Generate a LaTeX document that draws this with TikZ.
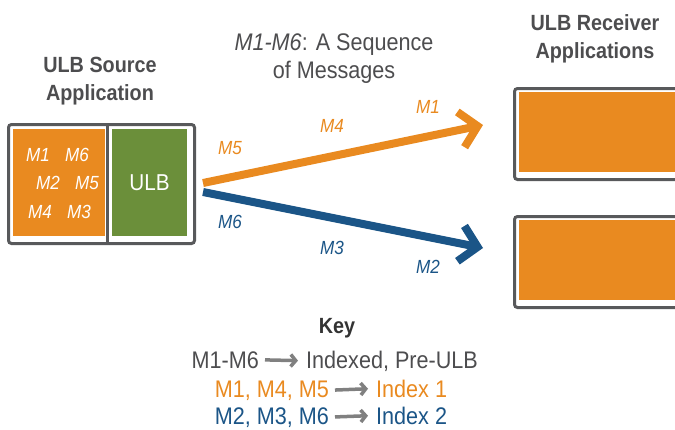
\documentclass[tikz,border=0pt]{standalone}
\usepackage{fontspec}
\setmainfont{Liberation Sans}[FakeStretch=0.9]
\usepackage{tikz}
\usetikzlibrary{arrows.meta}
\usepackage{xcolor}
\definecolor{ulborange}{HTML}{E98A20}
\definecolor{ulbgreen}{HTML}{6B8F3A}
\definecolor{ulbblue}{HTML}{1B5587}
\definecolor{ulbgray}{HTML}{58595B}
\definecolor{txtgray}{HTML}{4D4D4F}
\definecolor{keygray}{HTML}{808080}

\begin{document}
\begin{tikzpicture}[x=1pt,y=-1pt,
	frame/.style={draw=ulbgray,line width=3pt,rounded corners=3pt,inner sep=0pt,anchor=north west},
	area/.style={inner sep=0pt,outer sep=0pt,anchor=north west},
	heading/.style={font=\bfseries\fontsize{22}{28}\selectfont,text=txtgray,align=center,anchor=base},
	msg/.style={font=\itshape\fontsize{19}{19}\selectfont},
	keytxt/.style={font=\fontsize{24}{28}\selectfont,inner sep=0pt},
	msgarrow/.style={line width=8pt,-{Straight Barb[length=17pt,width=36pt]}},
	keyarrow/.style={draw=keygray,line width=3.5pt,-{Straight Barb[length=5pt,width=12pt]},shorten <=6pt,shorten >=8pt}]
			\clip (0,0) rectangle (675,429);
			% source application
			\node[heading] (srctitle) at (100,100) {ULB Source\\Application};
			\node[frame,minimum width=186pt,minimum height=119pt] (src) at (7,123) {};
			\draw[ulbgray,line width=3pt] (107,123) -- (107,242);
			\node[area,fill=ulborange,minimum width=92pt,minimum height=107pt] (msgs) at (13,129) {};
			\node[area,fill=ulbgreen,minimum width=75pt,minimum height=107pt] (ulb) at (112,129) {};
			\node[text=white,font=\fontsize{23}{23}\selectfont] at (ulb.center) {ULB};
			\foreach \Nom/\X/\Y in {M1/38/155,M6/77/155,M2/48/183,M5/87/183,M4/40/212,M3/79/212}
				\node[msg,text=white] at (\X,\Y) {\Nom};
			% receivers
			\node[heading] (rxtitle) at (595,58) {ULB Receiver\\Applications};
			\node[frame,minimum width=200pt,minimum height=91pt] (rx1) at (513,87) {};
			\node[area,fill=ulborange,minimum width=170pt,minimum height=80pt] at (519,92) {};
			\node[frame,minimum width=200pt,minimum height=91pt] (rx2) at (513,215) {};
			\node[area,fill=ulborange,minimum width=170pt,minimum height=80pt] at (519,220) {};
			% the two streams
			\node[font=\fontsize{24}{28}\selectfont,text=txtgray,align=center,anchor=base] (seq) at (334,78) {\textit{M1-M6}: A Sequence\\of Messages};
			\coordinate (out1) at (203,183);
			\coordinate (out2) at (203,192);
			\coordinate (in1) at (483,125);
			\coordinate (in2) at (483,248);
			\draw[msgarrow,ulborange] (out1) -- (in1);
			\draw[msgarrow,ulbblue] (out2) -- (in2);
			\foreach \Nom/\X/\Y/\Col in {M5/230/148/ulborange,M4/332/126/ulborange,M1/428/107/ulborange,M6/230/222/ulbblue,M3/332/248/ulbblue,M2/428/267/ulbblue}
				\node[msg,text=\Col] at (\X,\Y) {\Nom};
			% key
			\node[heading,text=black!80] (key) at (337,333) {Key};
			\node[keytxt,text=txtgray,anchor=base east] (k1a) at (259,368) {M1-M6};
			\node[keytxt,text=txtgray,anchor=base west] (k1b) at (306,368) {Indexed, Pre-ULB};
			\node[keytxt,text=ulborange,anchor=base east] (k2a) at (329,397) {M1, M4, M5};
			\node[keytxt,text=ulborange,anchor=base west] (k2b) at (376,397) {Index 1};
			\node[keytxt,text=ulbblue,anchor=base east] (k3a) at (329,424) {M2, M3, M6};
			\node[keytxt,text=ulbblue,anchor=base west] (k3b) at (376,424) {Index 2};
			\foreach \Ligne in {1,2,3}
				\draw[keyarrow] (k\Ligne a.east) -- (k\Ligne b.west);
		\end{tikzpicture}
\end{document}
